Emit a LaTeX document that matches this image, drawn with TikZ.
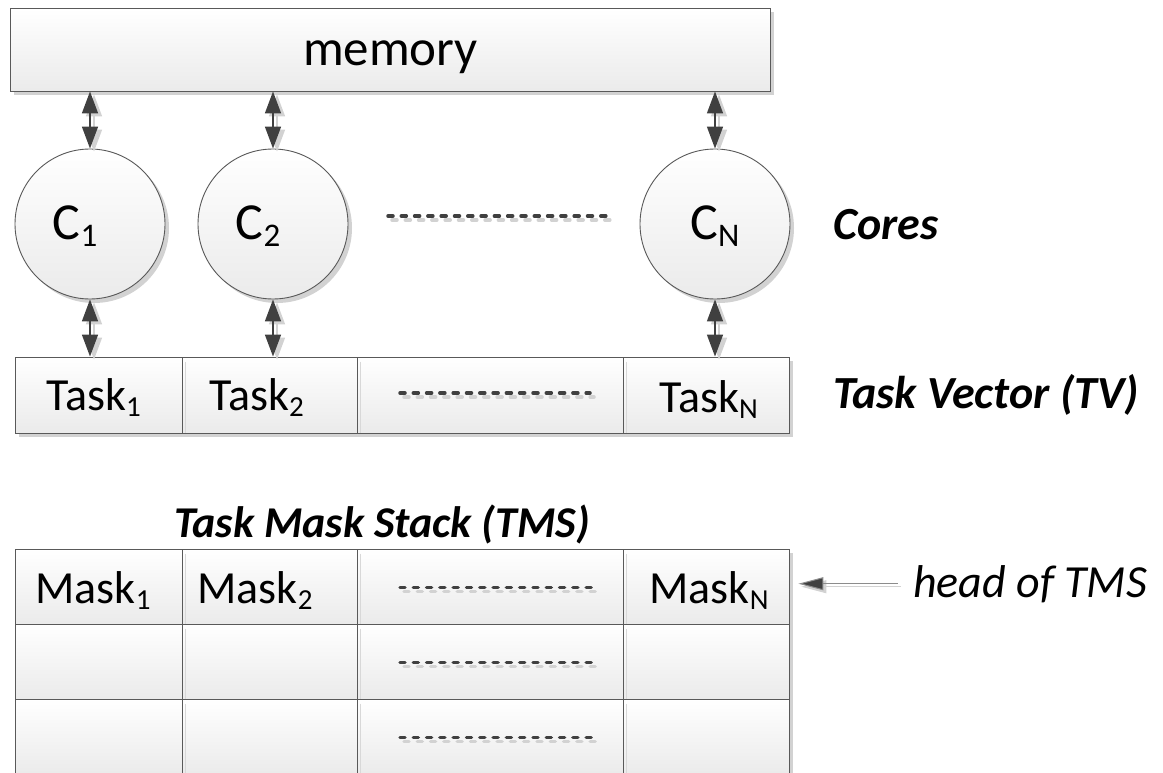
\documentclass[tikz,border=0pt]{standalone}
\usepackage{fontspec}
\setmainfont{Carlito}
\usetikzlibrary{shadows,arrows.meta,calc}
\definecolor{edge}{HTML}{595959}
\definecolor{arr}{HTML}{404040}
\definecolor{shad}{HTML}{D2D2D2}
\definecolor{inner}{HTML}{D8D8D8}
\newcommand{\mysub}[1]{\raisebox{-6pt}{\fontsize{29}{29}\selectfont #1}}
\newcommand{\mycsub}[1]{\raisebox{-7pt}{\fontsize{33}{33}\selectfont #1}}
\tikzset{
  cellbox/.style={rectangle, draw=edge, line width=0.9pt, top color=white, bottom color=black!8,
    inner sep=0pt,
    drop shadow={shadow xshift=4pt, shadow yshift=-4pt, fill=shad, opacity=1}},
  core/.style={circle, draw=edge, line width=0.9pt, top color=white, bottom color=black!8,
    inner sep=0pt, minimum size=150pt,
    drop shadow={shadow xshift=4pt, shadow yshift=-4pt, fill=shad, opacity=1}},
  txt/.style={inner sep=0pt, anchor=base, font=\fontsize{46}{55}\selectfont},
  ctxt/.style={inner sep=0pt, anchor=base, font=\fontsize{52}{60}\selectfont},
  dbl/.style={{Triangle[length=22pt,width=16pt]}-{Triangle[length=22pt,width=16pt]}, line width=1.5pt, draw=arr},
  dblshadow/.style={{Triangle[length=22pt,width=16pt]}-{Triangle[length=22pt,width=16pt]}, line width=1.5pt, draw=shad,
    transform canvas={xshift=4pt,yshift=-3pt}},
  dots/.style={draw=arr, line width=3.5pt, line cap=round, dash pattern=on 5pt off 8.3pt},
  dotshadow/.style={draw=shad, line width=3.5pt, line cap=round, dash pattern=on 5pt off 8.3pt,
    transform canvas={xshift=4pt,yshift=-4pt}},
  lab/.style={font=\fontsize{46}{55}\selectfont\bfseries\itshape, inner sep=0pt},
  headlab/.style={font=\fontsize{46}{55}\selectfont\itshape, inner sep=0pt},
  innerline/.style={draw=inner, line width=1pt},
  headarrow/.style={{Triangle[length=25pt,width=13pt,fill=arr]}-, line width=1pt, draw=black!45},
  headshadow/.style={{Triangle[length=25pt,width=13pt]}-, line width=1pt, draw=shad,
    transform canvas={xshift=3pt,yshift=-3pt}},
}
\begin{document}
\begin{tikzpicture}[x=1pt,y=-1pt]
\useasboundingbox (0,0) rectangle (1163,773);

% memory
\node[cellbox, minimum width=760pt, minimum height=83pt] (mem) at (390,49.5) {};
\node[txt, font=\fontsize{51}{60}\selectfont] (memt) at (390.5,66) {memory};

% cores
\node[core] (c1) at (90,224) {};
\node[core] (c2) at (273,224) {};
\node[core] (cn) at (715,224) {};
\node[ctxt] (c1t) at (75,240) {C\mycsub{1}};
\node[ctxt] (c2t) at (258,240) {C\mycsub{2}};
\node[ctxt] (cnt) at (715,240) {C\mycsub{N}};
\coordinate (cda) at (388,216);
\coordinate (cdb) at (610,216);
\draw[dotshadow] (cda) -- (cdb);
\draw[dots] (cda) -- (cdb);

% task vector
\node[cellbox, minimum width=167pt, minimum height=76pt] (t1) at (98.5,395) {};
\node[cellbox, minimum width=175pt, minimum height=76pt] (t2) at (269.5,395) {};
\node[cellbox, minimum width=266pt, minimum height=76pt] (t3) at (490,395) {};
\node[cellbox, minimum width=166pt, minimum height=76pt] (t4) at (706,395) {};
\foreach \c in {t2,t3,t4}{
  \draw[innerline] ($(\c.north west)+(4,5)$) -- ($(\c.south west)+(4,0)$);
}
\node[txt] (t1t) at (93.5,410) {Task\mysub{1}};
\node[txt] (t2t) at (256.5,410) {Task\mysub{2}};
\node[txt] (t4t) at (708.5,412) {Task\mysub{N}};
\coordinate (tda) at (400,393);
\coordinate (tdb) at (590,393);
\draw[dotshadow] (tda) -- (tdb);
\draw[dots] (tda) -- (tdb);

% arrows memory <-> cores <-> tasks
\foreach \c/\t in {c1/t1,c2/t2,cn/t4}{
  \draw[dblshadow] (\c.north |- mem.south) -- (\c.north);
  \draw[dblshadow] (\c.south) -- (\c.south |- \t.north);
}
\foreach \c/\t in {c1/t1,c2/t2,cn/t4}{
  \draw[dbl] (\c.north |- mem.south) -- (\c.north);
  \draw[dbl] (\c.south) -- (\c.south |- \t.north);
}

% labels
\node[lab, anchor=base west] (cores) at (833,240) {Cores};
\node[lab, anchor=base west] (tv) at (833,408) {Task Vector (TV)};
\node[lab, anchor=base, font=\fontsize{44}{52}\selectfont\bfseries\itshape] (tms) at (382,537) {Task Mask Stack (TMS)};

% task mask stack
\foreach \r/\y in {1/586.5,2/661.5,3/736.5}{
  \node[cellbox, minimum width=167pt, minimum height=75pt] (m\r1) at (98.5,\y) {};
  \node[cellbox, minimum width=175pt, minimum height=75pt] (m\r2) at (269.5,\y) {};
  \node[cellbox, minimum width=266pt, minimum height=75pt] (m\r3) at (490,\y) {};
  \node[cellbox, minimum width=166pt, minimum height=75pt] (m\r4) at (706,\y) {};
  \foreach \c in {2,3,4}{
    \draw[innerline] ($(m\r\c.north west)+(4,5)$) -- ($(m\r\c.south west)+(4,0)$);
  }
  \coordinate (md\r a) at (400,\y+1);
  \coordinate (md\r b) at (594,\y+1);
  \draw[dotshadow] (md\r a) -- (md\r b);
  \draw[dots] (md\r a) -- (md\r b);
}
\node[txt] (mk1) at (93,603) {Mask\mysub{1}};
\node[txt] (mk2) at (255,603) {Mask\mysub{2}};
\node[txt] (mk4) at (709,603) {Mask\mysub{N}};

% head of TMS
\node[headlab, anchor=base west] (head) at (913,597) {head of TMS};
\coordinate (hs) at ($(head.west)+(0,0)$);
\draw[headshadow, shorten <=9pt, shorten >=15pt] (hs -| m14.east) -- (hs);
\draw[headarrow, shorten <=9pt, shorten >=15pt] (hs -| m14.east) -- (hs);
\end{tikzpicture}
\end{document}
